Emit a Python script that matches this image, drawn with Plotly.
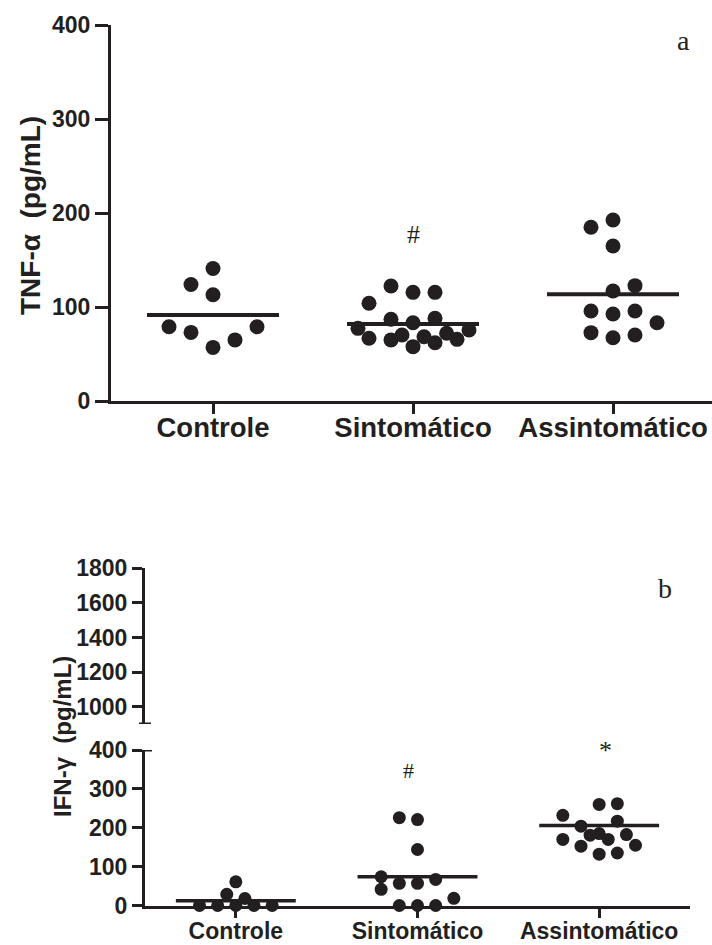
import plotly.graph_objects as go

# ---------------- data ----------------
categories = ["Controle", "Sintomático", "Assintomático"]

# Panel a: TNF-alpha (pg/mL)
tnf_controle = [141, 124, 113, 79, 79, 73, 65, 57]
tnf_controle_jit = [0, -0.11, 0, -0.22, 0.22, -0.11, 0.11, 0]
tnf_sintomatico = [66.7, 65, 57.8, 62, 65.6, 77.3, 70.2, 68.4, 72, 75.5,
                   86.9, 83.3, 88, 104, 122.3, 115.6, 115.6]
tnf_sintomatico_jit = [-0.22, -0.11, 0, 0.11, 0.22, -0.275, -0.055, 0.055, 0.168, 0.28,
                       -0.11, 0, 0.11, -0.22, -0.11, 0, 0.11]
tnf_assintomatico = [192.6, 184.8, 164.9, 122.7, 117, 95.7, 92.6, 95.7, 83.3, 72.7, 67.3, 70.2]
tnf_assintomatico_jit = [0, -0.11, 0, 0.11, 0, -0.11, 0, 0.11, 0.22, -0.11, 0, 0.11]
tnf_lines = [91.5, 82, 113.5]
tnf_ticks = [0, 100, 200, 300, 400]

# Panel b: IFN-gamma (pg/mL)
ifn_controle = [61, 29, 18, 0, 0, 0, 0, 0]
ifn_controle_jit = [0, -0.05, 0.05, -0.2, -0.1, 0, 0.1, 0.2]
ifn_sintomatico = [226, 221, 144, 74, 57, 57, 67, 41.5, 18.5, 0, 0, 0]
ifn_sintomatico_jit = [-0.1, 0, 0, -0.2, -0.1, 0, 0.1, -0.2, 0.2, -0.1, 0, 0.1]
ifn_assintomatico = [260, 262, 232, 217, 204, 181, 185, 170, 182.5, 170, 152.5, 155, 132, 135]
ifn_assintomatico_jit = [0, 0.1, -0.2, 0.1, -0.1, -0.05, 0, 0.05, 0.15, -0.2, -0.1, 0.2, 0, 0.1]
ifn_lines = [12, 74, 206]
ifn_ticks_low = [0, 100, 200, 300, 400]
ifn_ticks_high = [1000, 1200, 1400, 1600, 1800]

# ---------------- styling ----------------
W, H = 712, 945
INK = "#231f20"
NARROW = "Liberation Sans Narrow, Liberation Sans, Arial, sans-serif"
SANS = "Liberation Sans, Arial, sans-serif"
SERIF = "Liberation Serif, Times New Roman, serif"

def px_x(p):
    return p / W

def px_y(p):
    return 1 - p / H

fig = go.Figure()

def add_group(xi, vals, jit, xa, ya, msize):
    fig.add_trace(go.Scatter(
        x=[xi + j for j in jit], y=vals, mode="markers",
        marker=dict(size=msize, color=INK, line=dict(width=0)),
        xaxis=xa, yaxis=ya, showlegend=False, cliponaxis=False, hoverinfo="y"))

def add_line(xi, val, xa, ya, lw):
    fig.add_trace(go.Scatter(
        x=[xi - 0.33, xi + 0.33], y=[val, val], mode="lines",
        line=dict(color=INK, width=lw), xaxis=xa, yaxis=ya,
        showlegend=False, cliponaxis=False, hoverinfo="skip"))

tnf_groups = [(tnf_controle, tnf_controle_jit), (tnf_sintomatico, tnf_sintomatico_jit),
              (tnf_assintomatico, tnf_assintomatico_jit)]
for i, (v, j) in enumerate(tnf_groups):
    add_group(i, v, j, "x", "y", 15)
    add_line(i, tnf_lines[i], "x", "y", 4)

ifn_groups = [(ifn_controle, ifn_controle_jit), (ifn_sintomatico, ifn_sintomatico_jit),
              (ifn_assintomatico, ifn_assintomatico_jit)]
for i, (v, j) in enumerate(ifn_groups):
    add_group(i, v, j, "x2", "y2", 13)
    add_line(i, ifn_lines[i], "x2", "y2", 3.5)

# dummy trace so the upper (broken) axis segment is drawn
fig.add_trace(go.Scatter(x=[None], y=[None], xaxis="x2", yaxis="y3",
                         showlegend=False, hoverinfo="skip"))

axis_common = dict(showgrid=False, zeroline=False, showline=True, linecolor=INK,
                   ticks="outside", tickcolor=INK, automargin=False)

fig.update_layout(
    template="none",
    width=W, height=H, margin=dict(l=0, r=0, t=0, b=0, pad=0),
    paper_bgcolor="white", plot_bgcolor="white", showlegend=False,
    xaxis=dict(**axis_common, domain=[px_x(111), 1.0], range=[-0.51, 2.495],
               anchor="y", tickvals=[0, 1, 2], ticktext=categories,
               linewidth=3, tickwidth=3, ticklen=10, ticklabelstandoff=-10,
               tickfont=dict(family=SANS, size=27.5, color=INK, weight="bold")),
    yaxis=dict(**axis_common, domain=[px_y(401), px_y(25)], range=[0, 400],
               anchor="x", tickvals=tnf_ticks, linewidth=3, tickwidth=3, ticklen=13,
               tickfont=dict(family=NARROW, size=23, color=INK, weight="bold")),
    xaxis2=dict(**axis_common, domain=[px_x(145), px_x(690)], range=[-0.5, 2.5],
                anchor="y2", tickvals=[0, 1, 2], ticktext=categories,
                linewidth=3, tickwidth=3, ticklen=9, ticklabelstandoff=-6,
                tickfont=dict(family=SANS, size=23, color=INK, weight="bold")),
    yaxis2=dict(**axis_common, domain=[px_y(905.5), px_y(750)], range=[0, 400],
                anchor="x2", tickvals=ifn_ticks_low, linewidth=3, tickwidth=3, ticklen=10,
                tickfont=dict(family=NARROW, size=23, color=INK, weight="bold")),
    yaxis3=dict(**axis_common, domain=[px_y(724), px_y(568)], range=[902, 1800],
                anchor="x2", tickvals=ifn_ticks_high, linewidth=3, tickwidth=3, ticklen=10,
                tickfont=dict(family=NARROW, size=23, color=INK, weight="bold")),
)

# broken-axis end marks
fig.add_shape(type="line", xref="paper", yref="y3", x0=px_x(139), x1=px_x(151),
              y0=902, y1=902, line=dict(color=INK, width=3))
fig.add_shape(type="line", xref="paper", yref="y2", x0=px_x(144), x1=px_x(152),
              y0=400, y1=400, line=dict(color=INK, width=3))

def paper_text(x, y, text, font, angle=0):
    fig.add_annotation(x=px_x(x), y=px_y(y), xref="paper", yref="paper",
                       xanchor="center", yanchor="middle", text=text,
                       textangle=angle, showarrow=False, font=font)

# axis titles
paper_text(31, 216, "TNF-α  (pg/mL)", dict(family=SANS, size=28, color=INK, weight="bold"), -90)
paper_text(62, 737, "IFN-γ  (pg/mL)", dict(family=SANS, size=24, color=INK, weight="bold"), -90)

# panel letters
paper_text(683, 40, "a", dict(family=SERIF, size=28, color=INK))
paper_text(665, 588, "b", dict(family=SERIF, size=28, color=INK))

# significance marks
fig.add_annotation(x=1, y=177, xref="x", yref="y", text="#", showarrow=False,
                   xanchor="center", yanchor="middle",
                   font=dict(family=SERIF, size=26, color=INK))
fig.add_annotation(x=0.95, y=347, xref="x2", yref="y2", text="#", showarrow=False,
                   xanchor="center", yanchor="middle",
                   font=dict(family=SERIF, size=22, color=INK))
paper_text(605, 750, "*", dict(family=SERIF, size=26, color=INK))

fig.write_html("out.html", config={"displayModeBar": False},
               post_script="document.body.style.margin='0';document.body.style.overflow='hidden';")
